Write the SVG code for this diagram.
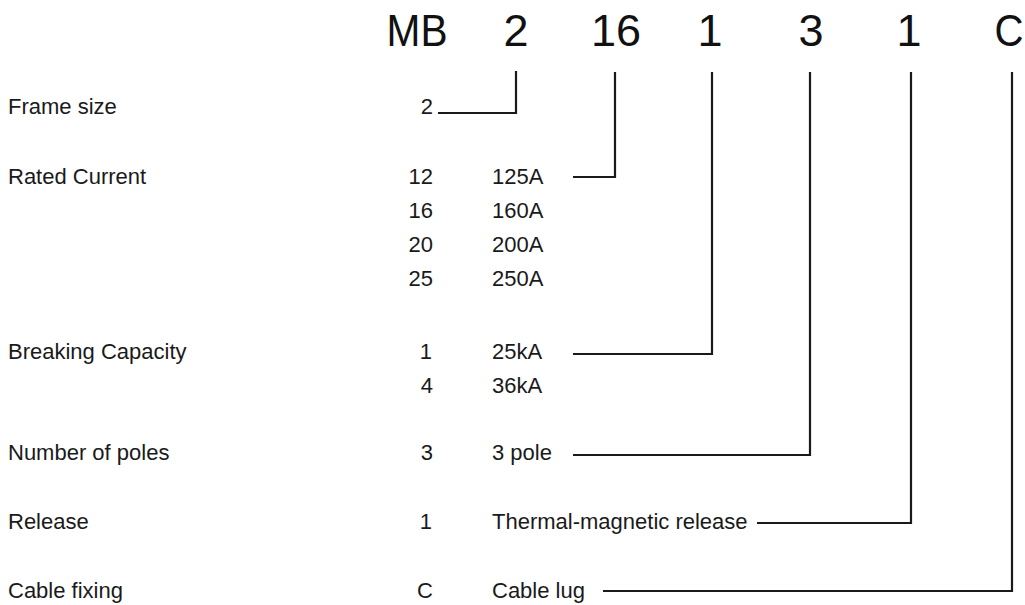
<svg xmlns="http://www.w3.org/2000/svg" width="1025" height="605" viewBox="0 0 1025 605">
<style>
.big{font-family:"Liberation Sans",Arial,sans-serif;font-size:45px;fill:#111;text-anchor:middle}
.t{font-family:"Liberation Sans",Arial,sans-serif;font-size:22px;fill:#1a1a1a}
.n{text-anchor:end}
.ln{fill:none;stroke:#1a1a1a;stroke-width:2.2}
</style>
<g id="code">
<text class="big" x="417" y="46" textLength="61" lengthAdjust="spacingAndGlyphs">MB</text>
<text class="big" x="516" y="46">2</text>
<text class="big" x="616" y="46">16</text>
<text class="big" x="710" y="46">1</text>
<text class="big" x="811" y="46">3</text>
<text class="big" x="909" y="46">1</text>
<text class="big" x="1009" y="46" textLength="29" lengthAdjust="spacingAndGlyphs">C</text>
</g>
<g id="frame-size">
<text class="t" x="8" y="114">Frame size</text>
<text class="t n" x="433" y="114">2</text>
</g>
<g id="rated-current">
<text class="t" x="8" y="184">Rated Current</text>
<text class="t n" x="433" y="184">12</text><text class="t" x="492" y="184">125A</text>
<text class="t n" x="433" y="218">16</text><text class="t" x="492" y="218">160A</text>
<text class="t n" x="433" y="252">20</text><text class="t" x="492" y="252">200A</text>
<text class="t n" x="433" y="286">25</text><text class="t" x="492" y="286">250A</text>
</g>
<g id="breaking-capacity">
<text class="t" x="8" y="359">Breaking Capacity</text>
<text class="t n" x="432" y="359">1</text><text class="t" x="492" y="359">25kA</text>
<text class="t n" x="433" y="393">4</text><text class="t" x="492" y="393">36kA</text>
</g>
<g id="poles">
<text class="t" x="8" y="460">Number of poles</text>
<text class="t n" x="433" y="460">3</text><text class="t" x="492" y="460">3 pole</text>
</g>
<g id="release">
<text class="t" x="8" y="529">Release</text>
<text class="t n" x="432" y="529">1</text><text class="t" x="492" y="529">Thermal-magnetic release</text>
</g>
<g id="cable-fixing">
<text class="t" x="8" y="598">Cable fixing</text>
<text class="t n" x="433" y="598">C</text><text class="t" x="492" y="598">Cable lug</text>
</g>
<g id="connectors">
<polyline class="ln" points="438,113 516,113 516,71"/>
<polyline class="ln" points="573,177 615,177 615,72"/>
<polyline class="ln" points="573,354 712,354 712,72"/>
<polyline class="ln" points="573,455 810,455 810,72"/>
<polyline class="ln" points="757,523 911,523 911,72"/>
<polyline class="ln" points="603,591 1012,591 1012,72"/>
</g>
</svg>
